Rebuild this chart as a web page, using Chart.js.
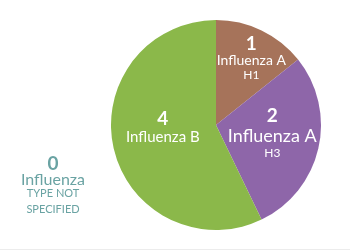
<!DOCTYPE html>
<html>
<head>
<meta charset="utf-8">
<script src="https://cdn.jsdelivr.net/npm/chart.js@4"></script>
<style>
  html, body { margin: 0; padding: 0; background: #fff; }
  #wrap { width: 350px; height: 249px; border-bottom: 1px solid #ececec; }
</style>
</head>
<body>
<div id="wrap"><canvas id="fluChart"></canvas></div>
<script>
const categories = ["Influenza A H1", "Influenza A H3", "Influenza B", "Influenza type not specified"];
const counts = [1, 2, 4, 0];
const colors = ["#a6735a", "#8e66a9", "#8bb84a", "#6aa3a3"];

// text lines per slice: [text, font size, bold, dx, dy from anchor]
const labelLines = [
  [["1", 19, true, 3, -8], ["Influenza A", 14, false, 3, 7], ["H1", 12, false, 3, 21]],
  [["2", 19, true, 0, -16], ["Influenza A", 18, false, 0, 4], ["H3", 12, false, 0, 19]],
  [["4", 19, true, -2, -12], ["Influenza B", 15, false, -2, 5]],
  [["0", 19, true, 0, 45], ["Influenza", 16, false, 0, 60], ["TYPE NOT", 11, false, 0, 72], ["SPECIFIED", 11, false, 0, 88]]
];
const labelRadius = [0.71, 0.55, 0.5, null];

const sliceLabels = {
  id: "sliceLabels",
  afterDatasetsDraw(chart) {
    const ctx = chart.ctx;
    const meta = chart.getDatasetMeta(0);
    ctx.save();
    ctx.textAlign = "center";
    ctx.textBaseline = "alphabetic";
    meta.data.forEach((arc, i) => {
      let ax, ay, color = "#fff";
      if (counts[i] > 0) {
        const p = arc.getProps(["x", "y", "startAngle", "endAngle", "outerRadius"], true);
        const mid = (p.startAngle + p.endAngle) / 2;
        const r = p.outerRadius * labelRadius[i];
        ax = p.x + Math.cos(mid) * r;
        ay = p.y + Math.sin(mid) * r;
      } else {
        ax = chart.chartArea.left - 58;
        ay = (chart.chartArea.top + chart.chartArea.bottom) / 2;
        color = colors[i];
      }
      ctx.fillStyle = color;
      labelLines[i].forEach(([t, size, bold, dx, dy]) => {
        ctx.font = (bold ? "bold " : "") + size + "px Lato, 'Open Sans', sans-serif";
        ctx.fillText(t, ax + dx, ay + dy);
      });
    });
    ctx.restore();
  }
};

new Chart(document.getElementById("fluChart"), {
  type: "pie",
  data: {
    labels: categories,
    datasets: [{
      data: counts,
      backgroundColor: colors,
      borderWidth: 0
    }]
  },
  options: {
    responsive: true,
    maintainAspectRatio: false,
    animation: false,
    layout: { padding: { left: 111, right: 29, top: 20, bottom: 19 } },
    plugins: {
      legend: { display: false },
      tooltip: { enabled: false }
    }
  },
  plugins: [sliceLabels]
});
</script>
</body>
</html>
